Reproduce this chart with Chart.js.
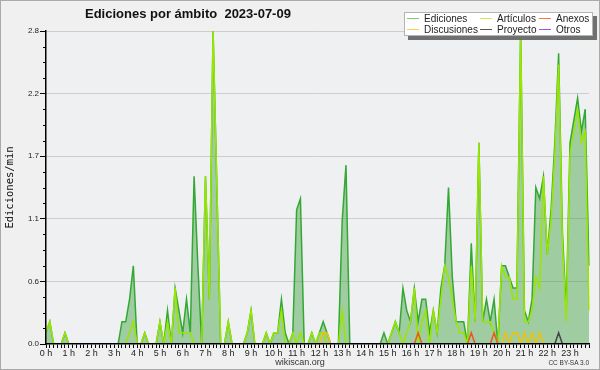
<!DOCTYPE html>
<html>
<head>
<meta charset="utf-8">
<script src="https://cdn.jsdelivr.net/npm/chart.js@4.4.1/dist/chart.umd.min.js"></script>
<style>
  body { margin: 0; background: #fff; }
  #wrap { position: relative; width: 600px; height: 370px; box-sizing: border-box; border: 1px solid #aaa; background: #f0f0f0; font-family: "Liberation Sans", Arial, sans-serif; color: #111; }
  #chart { position: absolute; left: 0; top: 0; }
  .title { position: absolute; left: 84px; top: 6px; font-size: 13px; font-weight: bold; line-height: 13px; white-space: pre; }
  .legend { position: absolute; left: 403px; top: 11px; width: 187px; height: 22px; background: #fff; border: 1px solid #b4b4b4; box-shadow: 4px 4px 0 #707070; }
  .item { position: absolute; height: 10px; line-height: 10px; font-size: 10px; white-space: nowrap; color: #222; }
  .item i { display: inline-block; width: 12px; height: 1px; vertical-align: middle; margin-right: 5px; position: relative; top: -1px; }
  .foot { position: absolute; left: 250px; width: 98px; text-align: center; top: 357px; font-size: 9px; line-height: 9px; color: #333; }
  .lic { position: absolute; right: 10px; top: 358px; font-size: 6.5px; line-height: 7px; color: #333; }
</style>
</head>
<body>
<div id="wrap">
  <canvas id="chart" width="598" height="368"></canvas>
  <div class="title">Ediciones por ámbito  2023-07-09</div>
  <div class="legend">
    <div class="item" style="left:2px;top:1px"><i style="background:#7acc7a"></i>Ediciones</div>
    <div class="item" style="left:2px;top:12px"><i style="background:#ffcc44"></i>Discusiones</div>
    <div class="item" style="left:75px;top:1px"><i style="background:#c8ee55"></i>Artículos</div>
    <div class="item" style="left:75px;top:12px"><i style="background:#555"></i>Proyecto</div>
    <div class="item" style="left:134px;top:1px"><i style="background:#ff7744"></i>Anexos</div>
    <div class="item" style="left:134px;top:12px"><i style="background:#9955ee"></i>Otros</div>
  </div>
  <div class="foot">wikiscan.org</div>
  <div class="lic">CC BY-SA 3.0</div>
</div>
<script>
// hour tick labels, one every 6 ten-minute slots
const hours = ['0 h','1 h','2 h','3 h','4 h','5 h','6 h','7 h','8 h','9 h','10 h','11 h',
  '12 h','13 h','14 h','15 h','16 h','17 h','18 h','19 h','20 h','21 h','22 h','23 h'];
const yMajor = [0, 0.56, 1.12, 1.68, 2.24, 2.8];
const yMajorLabels = ['0.0','0.6','1.1','1.7','2.2','2.8'];

// edits per minute, 10-minute slots (12 per row = 2 hours)
const ediciones = [
  0.1,0.2,0,0,0,0.1,0,0,0,0,0,0,
  0,0,0,0,0,0,0,0,0.2,0.2,0.4,0.7,
  0,0,0.1,0,0,0,0.2,0,0.3,0,0.5,0.3,
  0.1,0.4,0.1,1.5,0.7,0,1.5,0.4,2.8,1.4,0,0,
  0.2,0,0,0,0,0.1,0.3,0,0,0,0.1,0,
  0.1,0.1,0.4,0.1,0,0.1,1.2,1.3,0,0,0.1,0,
  0.1,0.2,0.1,0,0,0,1.1,1.6,0,0,0,0,
  0,0,0,0,0,0.1,0,0.1,0.2,0.1,0.5,0.3,
  0.2,0.5,0.2,0.4,0.4,0.1,0.3,0.1,0.5,0.7,1.4,0.6,
  0.2,0.2,0.2,0,0.9,0.2,1.8,0.2,0.4,0.2,0.4,0,
  0.7,0.7,0.6,0.5,0.5,2.8,0.3,0.2,0.4,1.4,1.3,1.5,
  0.8,1.2,1.8,2.6,1.0,0.3,1.8,2.0,2.2,1.9,2.1,0.7
];
const articulos = [
  0.1,0.2,0,0,0,0.1,0,0,0,0,0,0,
  0,0,0,0,0,0,0,0,0,0,0.1,0.2,
  0,0,0.1,0,0,0,0.2,0,0.2,0,0.5,0.1,
  0.1,0.1,0.1,0,0,0,1.5,0.4,2.8,1.4,0,0,
  0.2,0,0,0,0,0.1,0.3,0,0,0,0.1,0,
  0.1,0.1,0.3,0,0,0.1,0,0.1,0,0,0.1,0,
  0.1,0.1,0,0,0,0,0.3,0,0,0,0,0,
  0,0,0,0,0,0,0,0.1,0.2,0.1,0,0.1,
  0.2,0.5,0,0.2,0.3,0,0.3,0.1,0.4,0.7,0.6,0.4,
  0.2,0.1,0.1,0,0.7,0.2,1.8,0.2,0.2,0.2,0.1,0,
  0.7,0.6,0.6,0.4,0.4,2.8,0.2,0.2,0.3,0.6,0.5,1.5,
  0.8,1.1,1.7,2.5,0.9,0.2,1.7,1.9,2.1,1.8,1.9,0.3
];
const anexos = [
  0,0,0,0,0,0,0,0,0,0,0,0,
  0,0,0,0,0,0,0,0,0,0,0,0,
  0,0,0,0,0,0,0,0,0,0,0,0,
  0,0,0,0,0,0,0,0,0,0,0,0,
  0,0,0,0,0,0,0,0,0,0,0,0,
  0,0,0,0,0,0,0,0,0,0,0,0,
  0,0,0,0,0,0,0,0,0,0,0,0,
  0,0,0,0,0,0,0,0,0,0,0,0,
  0,0,0.1,0,0,0,0,0,0,0,0,0,
  0,0,0,0,0.1,0,0,0,0,0,0.1,0,
  0,0,0,0,0,0,0,0,0,0,0,0,
  0,0,0,0,0,0,0,0,0,0,0,0
];
const discusiones = [
  0,0,0,0,0,0,0,0,0,0,0,0,
  0,0,0,0,0,0,0,0,0,0,0,0,
  0,0,0,0,0,0,0,0,0,0,0,0,
  0,0,0,0,0,0,0,0,0,0,0,0,
  0,0,0,0,0,0,0,0,0,0,0,0,
  0,0,0,0,0,0,0,0,0,0,0,0,
  0,0.1,0.1,0,0,0,0,0,0,0,0,0,
  0,0,0,0,0,0,0,0,0,0,0,0,
  0,0,0,0,0,0,0,0,0,0,0,0,
  0,0,0,0,0,0,0,0,0,0,0,0,
  0,0.1,0,0.1,0.1,0,0.1,0,0.1,0,0.1,0,
  0,0,0,0,0,0,0,0,0,0,0,0
];
const proyecto = [
  0,0,0,0,0,0,0,0,0,0,0,0,
  0,0,0,0,0,0,0,0,0,0,0,0,
  0,0,0,0,0,0,0,0,0,0,0,0,
  0,0,0,0,0,0,0,0,0,0,0,0,
  0,0,0,0,0,0,0,0,0,0,0,0,
  0,0,0,0,0,0,0,0,0,0,0,0,
  0,0,0,0,0,0,0,0,0,0,0,0,
  0,0,0,0,0,0,0,0,0,0,0,0,
  0,0,0,0,0,0,0,0,0,0,0,0,
  0,0,0,0,0,0,0,0,0,0,0,0,
  0,0,0,0,0,0,0,0,0,0,0,0,
  0,0,0,0.1,0,0,0,0,0,0,0,0
];
const otros = new Array(144).fill(0);

// 10-minute slot labels
const slots = [];
for (let h = 0; h < 24; h++) {
  for (let m = 0; m < 60; m += 10) slots.push(h + ':' + String(m).padStart(2, '0'));
}

// major y ticks split in 4 for the small tick marks
const yTicks = [];
for (let k = 0; k < yMajor.length - 1; k++) {
  for (let j = 0; j < 4; j++) yTicks.push(yMajor[k] + (yMajor[k + 1] - yMajor[k]) * j / 4);
}
yTicks.push(yMajor[yMajor.length - 1]);

const plotBg = {
  id: 'plotBg',
  beforeDraw(chart) {
    const a = chart.chartArea, c = chart.ctx;
    c.save();
    c.fillStyle = '#eef0f2';
    c.fillRect(a.left, a.top, a.right - a.left, a.bottom - a.top);
    c.restore();
  }
};

const minorTicks = {
  id: 'minorTicks',
  afterDraw(chart) {
    const y = chart.scales.y, c = chart.ctx;
    c.save();
    c.strokeStyle = '#000';
    c.lineWidth = 1;
    y.ticks.forEach((t, i) => {
      if (i % 4 === 0) return;
      const py = Math.round(y.getPixelForValue(t.value)) + 0.5;
      c.beginPath();
      c.moveTo(y.right - 3, py);
      c.lineTo(y.right, py);
      c.stroke();
    });
    c.restore();
  }
};

function line(label, data, color) {
  return { label: label, data: data, borderColor: color, borderWidth: 1.5, fill: false, pointRadius: 0, tension: 0 };
}

const ctx = document.getElementById('chart').getContext('2d');
new Chart(ctx, {
  type: 'line',
  data: {
    labels: slots,
    datasets: [
      line('Anexos', anexos, '#ee5522'),
      line('Discusiones', discusiones, '#f2c200'),
      line('Proyecto', proyecto, '#444444'),
      line('Otros', otros, '#9933ee'),
      line('Artículos', articulos, '#99e600'),
      Object.assign(line('Ediciones', ediciones, '#33a833'), { fill: 'origin', backgroundColor: 'rgba(50,155,50,0.42)' })
    ]
  },
  options: {
    responsive: false,
    animation: false,
    layout: { padding: { top: 30, right: 10, left: 0, bottom: 0 } },
    plugins: { legend: { display: false }, tooltip: { enabled: false } },
    scales: {
      x: {
        grid: { drawOnChartArea: false, tickLength: 4, tickColor: '#000', offset: false },
        border: { color: '#000', width: 1.5, z: 1 },
        ticks: {
          autoSkip: false, maxRotation: 0, padding: 0, color: '#222',
          font: { family: 'Liberation Sans', size: 9 },
          callback: (v, i) => i % 6 === 0 ? hours[i / 6] : ''
        },
        afterFit: s => { s.height = 25; }
      },
      y: {
        min: 0, max: 2.8,
        afterBuildTicks: s => { s.ticks = yTicks.map(v => ({ value: v })); },
        ticks: {
          autoSkip: false, padding: 1, color: '#222',
          font: { family: 'Liberation Sans', size: 8 },
          callback: (v, i) => i % 4 === 0 ? yMajorLabels[i / 4] : ''
        },
        grid: {
          tickLength: 6,
          color: c => (c.index % 4 === 0 && c.index > 0) ? '#cdcdcd' : 'rgba(0,0,0,0)',
          tickColor: c => c.index % 4 === 0 ? '#000' : 'rgba(0,0,0,0)'
        },
        border: { color: '#000', width: 1.5, z: 1 },
        title: {
          display: true, text: 'Ediciones/min', color: '#111',
          font: { family: 'DejaVu Sans Mono', size: 10.5 },
          padding: { top: 3, bottom: 0 }
        },
        afterFit: s => { s.width = 45; }
      }
    }
  },
  plugins: [plotBg, minorTicks]
});
</script>
</body>
</html>
